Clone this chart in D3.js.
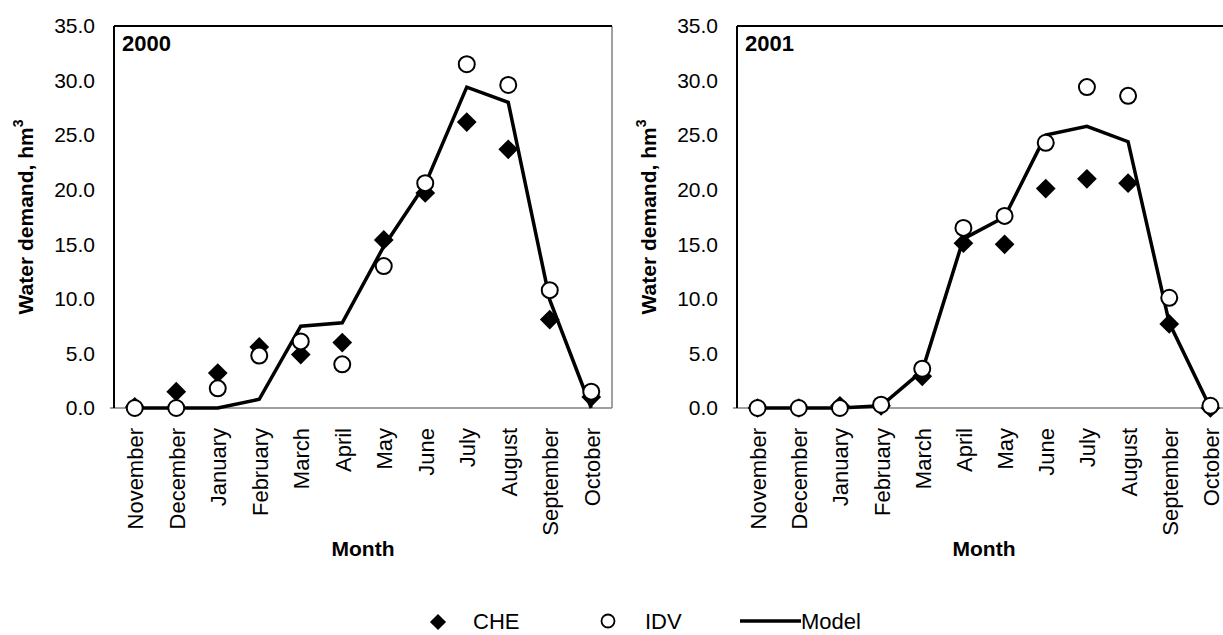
<!DOCTYPE html>
<html>
<head>
<meta charset="utf-8">
<script src="https://cdn.jsdelivr.net/npm/d3@7"></script>
<style>
  html, body { margin: 0; padding: 0; background: #fff; }
  svg { display: block; font-family: "Liberation Sans", Arial, sans-serif; }
</style>
</head>
<body>
<svg id="chart" width="1223" height="635"></svg>
<script>
// ---- data ----
const months = ["November","December","January","February","March","April","May","June","July","August","September","October"];
const yTicks = [0, 5, 10, 15, 20, 25, 30, 35];

const che2000   = [0.1, 1.5, 3.2, 5.6, 4.9, 6.0, 15.4, 19.7, 26.2, 23.7, 8.1, 1.0];
const idv2000   = [0.0, 0.0, 1.8, 4.8, 6.1, 4.0, 13.0, 20.6, 31.5, 29.6, 10.8, 1.5];
const model2000 = [0.0, 0.0, 0.0, 0.8, 7.5, 7.8, 14.8, 20.5, 29.4, 28.0, 9.9, 0.0];

const che2001   = [0.0, 0.0, 0.2, 0.2, 2.9, 15.1, 15.0, 20.1, 21.0, 20.6, 7.7, 0.0];
const idv2001   = [0.0, 0.0, 0.0, 0.3, 3.6, 16.5, 17.6, 24.3, 29.4, 28.6, 10.1, 0.2];
const model2001 = [0.0, 0.0, 0.0, 0.2, 3.4, 15.5, 17.5, 25.0, 25.8, 24.4, 7.8, 0.0];

const legendLabels = ["CHE", "IDV", "Model"];

// ---- drawing ----
const svg = d3.select("#chart");
const plotTop = 26, plotBottom = 408;

function panel(left, right, title, che, idv, model) {
  const g = svg.append("g");
  const x = d3.scalePoint().domain(months).range([left, right]).padding(0.5);
  const y = d3.scaleLinear().domain([0, 35]).range([plotBottom, plotTop]);

  // frame: bottom/right gray, left/top black
  g.append("line").attr("x1", left - 4).attr("x2", right).attr("y1", plotBottom).attr("y2", plotBottom)
    .attr("stroke", "#808080").attr("stroke-width", 1.5);
  g.append("line").attr("x1", right).attr("x2", right).attr("y1", plotTop).attr("y2", plotBottom)
    .attr("stroke", "#808080").attr("stroke-width", 1.5);
  g.append("line").attr("x1", left).attr("x2", right).attr("y1", plotTop).attr("y2", plotTop)
    .attr("stroke", "#000").attr("stroke-width", 2);
  g.append("line").attr("x1", left).attr("x2", left).attr("y1", plotTop).attr("y2", plotBottom)
    .attr("stroke", "#000").attr("stroke-width", 2);

  // y axis
  const ya = g.append("g").attr("transform", `translate(${left},0)`)
    .call(d3.axisLeft(y).tickValues(yTicks).tickFormat(d3.format(".1f")).tickSize(0).tickPadding(19));
  ya.select(".domain").remove();
  ya.selectAll("text").attr("font-size", 21).attr("fill", "#000")
    .style("font-family", "'Liberation Sans', Arial, sans-serif");

  // x axis
  const xa = g.append("g").attr("transform", `translate(0,${plotBottom})`)
    .call(d3.axisBottom(x).tickSize(0));
  xa.select(".domain").remove();
  xa.selectAll("text").attr("font-size", 22).attr("fill", "#000")
    .style("font-family", "'Liberation Sans', Arial, sans-serif")
    .attr("text-anchor", "end")
    .attr("transform", "rotate(-90)")
    .attr("x", -20).attr("y", 0).attr("dy", "0.36em");

  // axis titles
  g.append("text").attr("x", (left + right) / 2).attr("y", 556)
    .attr("text-anchor", "middle").attr("font-size", 21).attr("font-weight", "bold").text("Month");
  const yt = g.append("text")
    .attr("transform", `translate(${left - 81},${(plotTop + plotBottom) / 2}) rotate(-90)`)
    .attr("text-anchor", "middle").attr("font-size", 21).attr("font-weight", "bold");
  yt.append("tspan").text("Water demand, hm");
  yt.append("tspan").attr("font-size", 14).attr("dy", "-0.75em").text("3");

  // panel title
  g.append("text").attr("x", left + 8).attr("y", 51).attr("font-size", 22)
    .attr("font-weight", "bold").text(title);

  // model line
  const line = d3.line().x((d, i) => x(months[i])).y(d => y(d));
  g.append("path").datum(model).attr("d", line)
    .attr("fill", "none").attr("stroke", "#000").attr("stroke-width", 3.5)
    .attr("stroke-linejoin", "miter");

  // CHE diamonds
  const diamond = d3.symbol().type(d3.symbolSquare).size(195);
  g.selectAll(".che").data(che).join("path")
    .attr("d", diamond)
    .attr("transform", (d, i) => `translate(${x(months[i])},${y(d)}) rotate(45)`)
    .attr("fill", "#000");

  // IDV circles
  g.selectAll(".idv").data(idv).join("circle")
    .attr("cx", (d, i) => x(months[i])).attr("cy", d => y(d)).attr("r", 8)
    .attr("fill", "#fff").attr("stroke", "#000").attr("stroke-width", 2);
}

panel(114, 612, "2000", che2000, idv2000, model2000);
panel(737, 1231, "2001", che2001, idv2001, model2001);

// legend
const lg = svg.append("g");
lg.append("path").attr("d", d3.symbol().type(d3.symbolSquare).size(130))
  .attr("transform", "translate(438,622) rotate(45)").attr("fill", "#000");
lg.append("text").attr("x", 473).attr("y", 629).attr("font-size", 22).text(legendLabels[0]);
lg.append("circle").attr("cx", 608).attr("cy", 621).attr("r", 6.5)
  .attr("fill", "#fff").attr("stroke", "#000").attr("stroke-width", 1.8);
lg.append("text").attr("x", 645).attr("y", 629).attr("font-size", 22).text(legendLabels[1]);
lg.append("line").attr("x1", 740).attr("x2", 801).attr("y1", 621).attr("y2", 621)
  .attr("stroke", "#000").attr("stroke-width", 3.5);
lg.append("text").attr("x", 801).attr("y", 629).attr("font-size", 22).text(legendLabels[2]);
</script>
</body>
</html>
